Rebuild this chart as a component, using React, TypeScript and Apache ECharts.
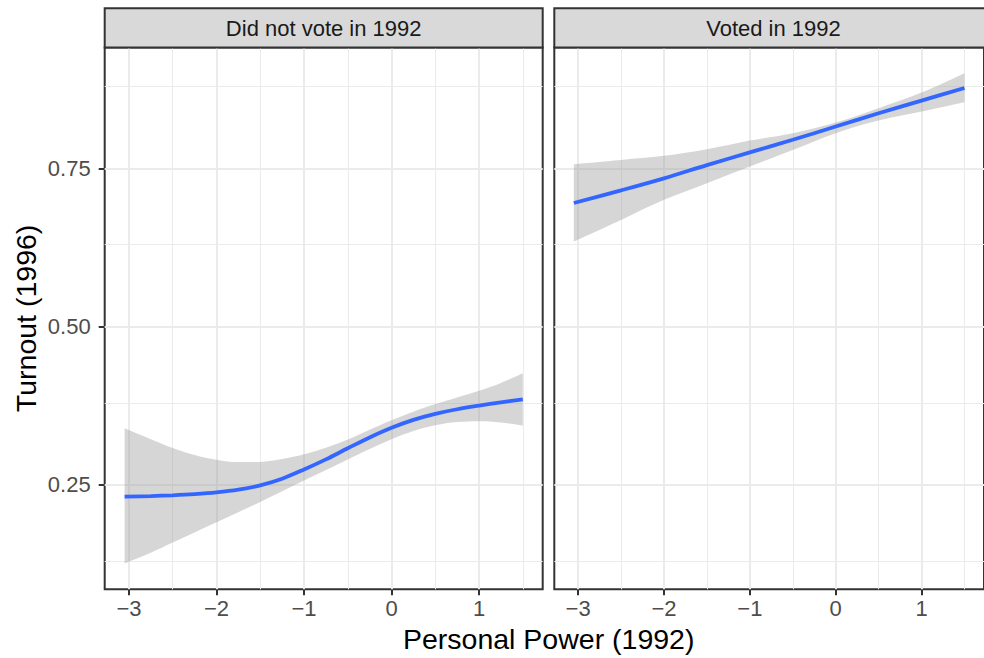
import React, { useEffect, useRef } from "react";
import * as echarts from "echarts";

// Smoothed turnout estimates with confidence bands, one facet per 1992 vote status
const facets = ["Did not vote in 1992", "Voted in 1992"];

const xNotVoted = [-3.05, -2.75, -2.5, -2.25, -2, -1.75, -1.5, -1.25, -1, -0.75, -0.5, -0.25, 0, 0.25, 0.5, 0.75, 1, 1.25, 1.5];
const fitNotVoted = [0.2315, 0.2325, 0.2337, 0.2355, 0.2382, 0.2425, 0.2495, 0.26, 0.2745, 0.2905, 0.308, 0.3252, 0.3405, 0.353, 0.3625, 0.3698, 0.3755, 0.3808, 0.3856];
const upperNotVoted = [0.3397, 0.3225, 0.3085, 0.2975, 0.29, 0.2862, 0.2865, 0.291, 0.2985, 0.309, 0.322, 0.3375, 0.3525, 0.366, 0.378, 0.3885, 0.399, 0.4115, 0.4267];
const lowerNotVoted = [0.1261, 0.143, 0.159, 0.175, 0.191, 0.207, 0.2232, 0.24, 0.257, 0.2737, 0.2905, 0.307, 0.3225, 0.3355, 0.3445, 0.3495, 0.351, 0.349, 0.3438];

const xVoted = [-3.05, -2.5, -2, -1.5, -1, -0.5, 0, 0.5, 1, 1.5];
const fitVoted = [0.696, 0.716, 0.735, 0.756, 0.776, 0.796, 0.817, 0.838, 0.858, 0.878];
const upperVoted = [0.7574, 0.7642, 0.7706, 0.7811, 0.7948, 0.8065, 0.8233, 0.846, 0.8707, 0.9014];
const lowerVoted = [0.635, 0.6693, 0.701, 0.7274, 0.7537, 0.78, 0.8065, 0.8265, 0.8407, 0.8555];

const xMajor = [-3, -2, -1, 0, 1];
const xMinor = [-2.5, -1.5, -0.5, 0.5, 1.5];
const yMajor = [0.25, 0.5, 0.75];
const yMinor = [0.125, 0.375, 0.625, 0.875];

const X_MIN = -3.2775;
const X_MAX = 1.7275;
const Y_MIN = 0.085;
const Y_MAX = 0.942;

const FONT = "'Liberation Sans', Arial, Helvetica, sans-serif";

const panels = [
  { x: xNotVoted, fit: fitNotVoted, upper: upperNotVoted, lower: lowerNotVoted },
  { x: xVoted, fit: fitVoted, upper: upperVoted, lower: lowerVoted },
];

// panel rectangles (left, width) in px
const PANEL_TOP = 47.5;
const PANEL_BOTTOM = 589.3;
const STRIP_TOP = 8.3;
const panelBoxes = [
  { left: 104.7, width: 438 },
  { left: 554.3, width: 438.4 },
];

const fmtX = (v: number) => (v < 0 ? "\u2212" + Math.abs(v) : String(v));

export default function App() {
  const ref = useRef<HTMLDivElement>(null);

  useEffect(() => {
    if (!ref.current) return;
    const chart = echarts.init(ref.current, null, { renderer: "svg" });
    const W = 984;
    const H = 658;

    const grids = panelBoxes.map((b) => ({
      left: b.left,
      right: W - (b.left + b.width),
      top: PANEL_TOP,
      bottom: H - PANEL_BOTTOM,
      show: true,
      backgroundColor: "#FFFFFF",
      borderColor: "#333333",
      borderWidth: 2,
      containLabel: false,
    }));

    const xAxes = panelBoxes.map((_, i) => ({
      type: "value",
      gridIndex: i,
      min: X_MIN,
      max: X_MAX,
      axisLine: { show: false, onZero: false },
      splitLine: { show: false },
      axisTick: {
        show: true,
        customValues: xMajor,
        length: 6,
        lineStyle: { color: "#333333", width: 2 },
      },
      axisLabel: {
        customValues: xMajor,
        formatter: fmtX,
        color: "#4D4D4D",
        fontSize: 22,
        fontFamily: FONT,
        margin: 8,
      },
    }));

    const yAxes = panelBoxes.map((_, i) => ({
      type: "value",
      gridIndex: i,
      min: Y_MIN,
      max: Y_MAX,
      axisLine: { show: false, onZero: false },
      splitLine: { show: false },
      axisTick: {
        show: i === 0,
        customValues: yMajor,
        length: 6,
        lineStyle: { color: "#333333", width: 2 },
      },
      axisLabel: {
        show: i === 0,
        customValues: yMajor,
        formatter: (v: number) => v.toFixed(2),
        color: "#4D4D4D",
        fontSize: 22,
        fontFamily: FONT,
        margin: 14,
      },
    }));

    const curveStyle = {
      smooth: 0.35,
      showSymbol: false,
      symbol: "none",
      silent: true,
    };

    const series: any[] = [];
    panels.forEach((p, i) => {
      // background grid lines
      series.push({
        type: "line",
        xAxisIndex: i,
        yAxisIndex: i,
        data: [],
        silent: true,
        z: 1,
        markLine: {
          silent: true,
          z: 1,
          symbol: ["none", "none"],
          label: { show: false },
          animation: false,
          data: [
            ...xMinor.map((v) => ({ xAxis: v, lineStyle: { color: "#EBEBEB", width: 1, type: "solid" } })),
            ...yMinor.map((v) => ({ yAxis: v, lineStyle: { color: "#EBEBEB", width: 1, type: "solid" } })),
            ...xMajor.map((v) => ({ xAxis: v, lineStyle: { color: "#EBEBEB", width: 2, type: "solid" } })),
            ...yMajor.map((v) => ({ yAxis: v, lineStyle: { color: "#EBEBEB", width: 2, type: "solid" } })),
          ],
        },
      });
      // confidence band: lower bound + stacked width; rows are [y, x] so the
      // first numeric dimension (the stacked one) is the value dimension
      series.push({
        type: "line",
        xAxisIndex: i,
        yAxisIndex: i,
        stack: "band" + i,
        encode: { x: 1, y: 0 },
        data: p.x.map((x, k) => [p.lower[k], x]),
        lineStyle: { opacity: 0 },
        z: 2,
        ...curveStyle,
      });
      series.push({
        type: "line",
        xAxisIndex: i,
        yAxisIndex: i,
        stack: "band" + i,
        encode: { x: 1, y: 0 },
        data: p.x.map((x, k) => [p.upper[k] - p.lower[k], x]),
        lineStyle: { opacity: 0 },
        areaStyle: { color: "#999999", opacity: 0.4 },
        z: 2,
        ...curveStyle,
      });
      // fitted curve
      series.push({
        type: "line",
        xAxisIndex: i,
        yAxisIndex: i,
        data: p.x.map((x, k) => [x, p.fit[k]]),
        lineStyle: { color: "#3366FF", width: 3.8 },
        z: 3,
        ...curveStyle,
      });
    });

    const graphic: any[] = [];
    panelBoxes.forEach((b, i) => {
      graphic.push({
        type: "rect",
        z: 10,
        shape: { x: b.left, y: STRIP_TOP, width: b.width, height: PANEL_TOP - STRIP_TOP },
        style: { fill: "#D9D9D9", stroke: "#333333", lineWidth: 2 },
      });
      graphic.push({
        type: "text",
        z: 11,
        x: b.left + b.width / 2,
        y: 28.7,
        style: {
          text: facets[i],
          align: "center",
          verticalAlign: "middle",
          fill: "#1A1A1A",
          fontSize: 22,
          fontFamily: FONT,
        },
      });
    });
    graphic.push({
      type: "text",
      z: 11,
      x: (panelBoxes[0].left + panelBoxes[1].left + panelBoxes[1].width) / 2,
      y: 639.3,
      style: {
        text: "Personal Power (1992)",
        align: "center",
        verticalAlign: "middle",
        fill: "#000000",
        fontSize: 28.5,
        fontFamily: FONT,
      },
    });
    graphic.push({
      type: "text",
      z: 11,
      x: 26,
      y: (PANEL_TOP + PANEL_BOTTOM) / 2,
      rotation: Math.PI / 2,
      style: {
        text: "Turnout (1996)",
        align: "center",
        verticalAlign: "middle",
        fill: "#000000",
        fontSize: 28.5,
        fontFamily: FONT,
      },
    });

    chart.setOption({
      animation: false,
      backgroundColor: "#FFFFFF",
      grid: grids,
      xAxis: xAxes,
      yAxis: yAxes,
      series,
      graphic,
    });

    return () => chart.dispose();
  }, []);

  return (
    <div
      ref={ref}
      style={{ position: "fixed", left: 0, top: 0, width: 984, height: 658, background: "#FFFFFF" }}
    />
  );
}
